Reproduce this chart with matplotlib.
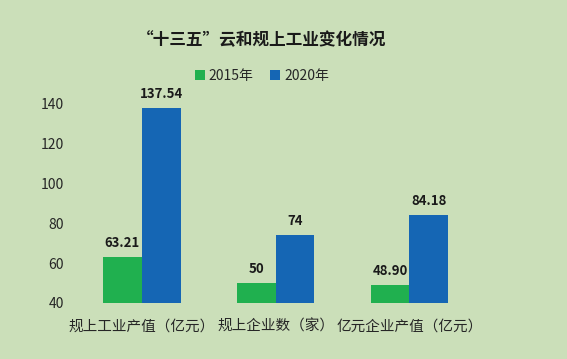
import matplotlib.pyplot as plt
import numpy as np

plt.rcParams['font.family'] = ['Noto Sans CJK SC', 'DejaVu Sans']

categories = ["规上工业产值（亿元）", "规上企业数（家）", "亿元企业产值（亿元）"]
vals_2015 = [63.21, 50, 48.90]
vals_2020 = [137.54, 74, 84.18]
labels_2015 = ["63.21", "50", "48.90"]
labels_2020 = ["137.54", "74", "84.18"]
years = ["2015年", "2020年"]

bg = "#cbdfb9"
green = "#20b04f"
blue = "#1566b4"
base = 40

fig = plt.figure(figsize=(5.67, 3.59), dpi=100, facecolor=bg)
ax = fig.add_axes([0.132, 0.156, 0.708, 0.557])
ax.set_facecolor(bg)

x = np.arange(len(categories))
w = 0.29
b1 = ax.bar(x - w / 2, np.array(vals_2015) - base, w, bottom=base, color=green, label=years[0])
b2 = ax.bar(x + w / 2, np.array(vals_2020) - base, w, bottom=base, color=blue, label=years[1])

for xi, v, t in zip(x - w / 2, vals_2015, labels_2015):
    ax.annotate(t, (xi, v), xytext=(0, 5), textcoords="offset points", ha="center",
                va="bottom", fontsize=9.5, fontweight="bold", color="#1a1a1a", annotation_clip=False)
for xi, v, t in zip(x + w / 2, vals_2020, labels_2020):
    ax.annotate(t, (xi, v), xytext=(0, 5), textcoords="offset points", ha="center",
                va="bottom", fontsize=9.5, fontweight="bold", color="#1a1a1a", annotation_clip=False)

ax.set_xlim(-0.5, 2.5)
ax.set_ylim(40, 140)
ax.set_yticks(range(40, 141, 20))
ax.set_xticks(x)
ax.set_xticklabels(categories, fontsize=10.5, color="#262626")
ax.tick_params(axis="y", labelsize=10, colors="#262626", length=0, pad=8)
ax.tick_params(axis="x", length=0, pad=12)
for s in ax.spines.values():
    s.set_visible(False)

fig.text(0.462, 0.888, "“十三五”云和规上工业变化情况", ha="center", va="center",
         fontsize=12, fontweight="bold", color="#1a1a1a")
fig.legend(handles=[b1, b2], labels=years, loc="center", bbox_to_anchor=(0.462, 0.788),
           ncol=2, frameon=False, fontsize=10, handlelength=0.7, handleheight=0.7,
           handletextpad=0.3, columnspacing=1.2, labelcolor="#262626")

fig.savefig("out.png", dpi=100, facecolor=bg)
